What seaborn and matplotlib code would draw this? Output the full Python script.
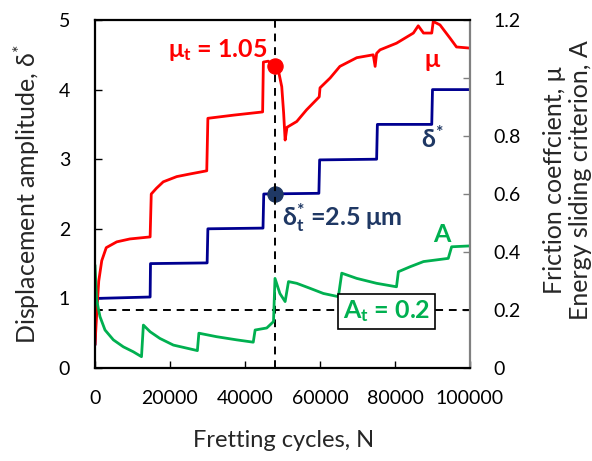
import matplotlib
matplotlib.use("Agg")
import matplotlib.pyplot as plt
import seaborn as sns
import pandas as pd

# ---------------- data ----------------
delta_cycles = [0, 300, 700, 14700, 14800, 29900, 30100, 44800, 45000, 59700, 59900,
                75100, 75300, 89800, 90000, 100000]
delta_values = [0.33, 0.9, 1.0, 1.02, 1.5, 1.51, 2.0, 2.01, 2.5, 2.51, 2.99,
                3.0, 3.5, 3.5, 4.0, 4.0]

mu_cycles = [0, 500, 1000, 1800, 3000, 5800, 9300, 14700, 15000, 16400, 18200, 21800,
             25300, 29800, 30100, 37000, 44700, 44900, 46200, 48000, 49000, 49800,
             50300, 50700, 51200, 53800, 56400, 59800, 60000, 62700, 65300, 69800,
             74200, 74700, 75100, 76000, 80400, 84900, 86200, 87600, 89800, 90200,
             92000, 94700, 96400, 100000]
mu_values = [0.08, 0.2, 0.3, 0.37, 0.415, 0.435, 0.445, 0.452, 0.60, 0.62, 0.642, 0.66,
             0.669, 0.68, 0.861, 0.872, 0.883, 1.055, 1.058, 1.04, 1.02, 0.97,
             0.88, 0.786, 0.83, 0.85, 0.89, 0.935, 0.966, 1.0, 1.04, 1.07,
             1.08, 1.04, 1.085, 1.097, 1.12, 1.155, 1.18, 1.155, 1.155, 1.195,
             1.183, 1.137, 1.107, 1.103]

A_cycles = [0, 440, 1330, 2670, 4900, 7560, 10200, 12400, 12900, 14700, 17300, 20900,
            25300, 27300, 27700, 32400, 37800, 42200, 42700, 45800, 47600, 48000,
            49300, 50700, 51600, 53800, 57300, 60900, 64900, 65800, 69800, 75100,
            80400, 80900, 84000, 87600, 94200, 95100, 100000]
A_values = [0.355, 0.234, 0.177, 0.131, 0.097, 0.073, 0.056, 0.039, 0.148, 0.125, 0.102,
            0.079, 0.066, 0.06, 0.12, 0.108, 0.097, 0.089, 0.131, 0.138, 0.16, 0.309,
            0.257, 0.229, 0.298, 0.292, 0.275, 0.257, 0.246, 0.327, 0.309, 0.292,
            0.28, 0.332, 0.349, 0.367, 0.378, 0.418, 0.421]

transition_cycle = [48000]
mu_t = [1.04]
delta_t = [2.5]
A_t = 0.2

x_ticks = [0, 20000, 40000, 60000, 80000, 100000]
left_ticks = [0, 1, 2, 3, 4, 5]
right_ticks = [0, 0.2, 0.4, 0.6, 0.8, 1.0, 1.2]
right_tick_labels = ["0", "0.2", "0.4", "0.6", "0.8", "1", "1.2"]

# ---------------- style ----------------
sns.set_style("white")
plt.rcParams["font.family"] = ["Lato", "DejaVu Sans"]
plt.rcParams["mathtext.fontset"] = "custom"
plt.rcParams["mathtext.rm"] = "Lato"
plt.rcParams["mathtext.it"] = "Lato:italic"
plt.rcParams["mathtext.bf"] = "Lato:bold"

RED = "#FF0000"
BLUE = "#000090"
GREEN = "#00B050"
NAVY = "#1F3864"
LW = 2.0

fig = plt.figure(figsize=(5.92, 4.61), dpi=100)
ax = fig.add_axes([95 / 592, 1 - 368 / 461, 375 / 592, 348 / 461])
ax2 = ax.twinx()

df_d = pd.DataFrame({"N": delta_cycles, "v": delta_values})
df_mu = pd.DataFrame({"N": mu_cycles, "v": mu_values})
df_A = pd.DataFrame({"N": A_cycles, "v": A_values})

sns.lineplot(data=df_d, x="N", y="v", ax=ax, color=BLUE, lw=LW,
             estimator=None, sort=False, legend=False)
sns.lineplot(data=df_mu, x="N", y="v", ax=ax2, color=RED, lw=LW,
             estimator=None, sort=False, legend=False)
sns.lineplot(data=df_A, x="N", y="v", ax=ax2, color=GREEN, lw=LW,
             estimator=None, sort=False, legend=False)

# transition lines
ax2.axvline(transition_cycle[0], color="black", lw=1.4, ls=(0, (4, 3)), zorder=1)
ax2.axhline(A_t, color="black", lw=1.4, ls=(0, (4, 3)), zorder=1)

sns.scatterplot(x=transition_cycle, y=mu_t, ax=ax2, color=RED, s=120,
                edgecolor=RED, zorder=5, legend=False)
sns.scatterplot(x=transition_cycle, y=delta_t, ax=ax, color=NAVY, s=120,
                edgecolor=NAVY, zorder=5, legend=False)

ax.set_xlim(0, 100000)
ax.set_ylim(0, 5)
ax2.set_ylim(0, 1.2)
ax.set_xticks(x_ticks)
ax.set_xticklabels([str(v) for v in x_ticks])
ax.set_yticks(left_ticks)
ax2.set_yticks(right_ticks)
ax2.set_yticklabels(right_tick_labels)

ax.set_xlabel("")
ax.set_ylabel("")
ax2.set_ylabel("")

ax.tick_params(axis="both", direction="in", length=5, width=1, labelsize=14,
               colors="black", left=True, bottom=True)
ax.tick_params(axis="x", pad=16)
ax.tick_params(axis="y", pad=18)
ax2.tick_params(axis="y", direction="in", length=5, width=1, labelsize=14,
                color="#808080", labelcolor="black", pad=17, right=True)

for s in ["left", "bottom", "top"]:
    ax2.spines[s].set_color("black")
    ax2.spines[s].set_linewidth(1.6)
ax2.spines["right"].set_color("#808080")
ax2.spines["right"].set_linewidth(1.6)
for s in ax.spines.values():
    s.set_visible(False)

# labels
fig.text(284 / 592, 1 - 440 / 461, "Fretting cycles, N", ha="center", va="center",
         fontsize=17)
fig.text(27 / 592, 1 - 194 / 461, "Displacement amplitude, δ$^{*}$", ha="center",
         va="center", rotation=90, fontsize=18)
fig.text(555 / 592, 1 - 180 / 461, "Friction coeffcient, μ", ha="center",
         va="center", rotation=90, fontsize=18)
fig.text(580 / 592, 1 - 180 / 461, "Energy sliding criterion, A", ha="center",
         va="center", rotation=90, fontsize=18)

# annotations
FS = 18
ax2.text(46000, 1.095, "μ$_{\\mathbf{t}}$ = 1.05", color=RED, fontsize=FS,
         fontweight="bold", ha="right", va="center")
ax2.text(90000, 1.065, "μ", color=RED, fontsize=FS, fontweight="bold",
         ha="center", va="center")
ax.text(90000, 3.3, "δ$^{\\mathbf{*}}$", color=NAVY, fontsize=FS,
        fontweight="bold", ha="center", va="center")
ax.text(50000, 2.16, "δ$^{\\mathbf{*}}_{\\mathbf{t}}$ =2.5 μm", color=NAVY,
        fontsize=FS, fontweight="bold", ha="left", va="center")
ax2.text(92500, 0.46, "A", color=GREEN, fontsize=FS, fontweight="bold",
         ha="center", va="center")
ax2.text(77800, 0.195, "A$_{\\mathbf{t}}$ = 0.2", color=GREEN, fontsize=FS,
         fontweight="bold", ha="center", va="center", zorder=6,
         bbox=dict(boxstyle="square,pad=0.2", fc="white", ec="black", lw=1.2))

fig.savefig("out.png", dpi=100)
